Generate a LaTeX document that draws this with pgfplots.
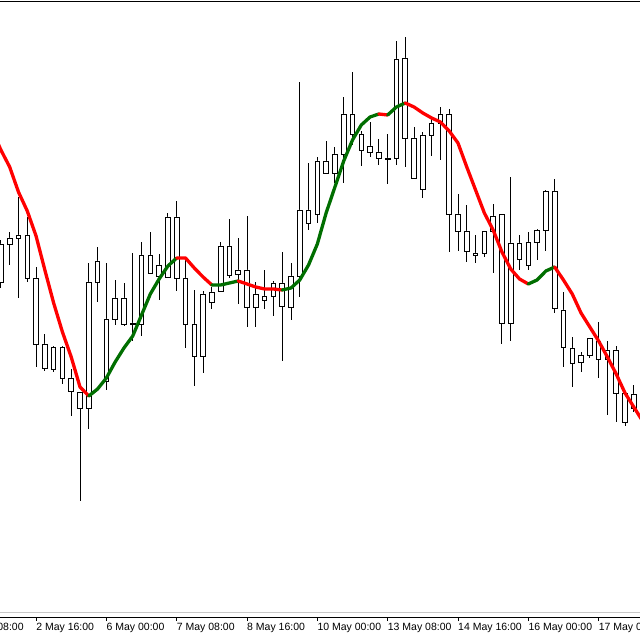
\documentclass[border=0pt]{standalone}
\usepackage{pgfplots}
\usepackage{pgfplotstable}
\pgfplotsset{compat=1.18}
\usepackage{fontspec}
\setmainfont{Liberation Sans}
\definecolor{maRed}{RGB}{255,0,0}
\definecolor{maGreen}{RGB}{0,110,0}
\definecolor{sepGray}{RGB}{200,200,200}

% candles: index, low, body bottom, body top, high
\pgfplotstableread{
i lo lq uq hi
0 352 358 396 400
1 375 396 402 408
2 342 402 405 443
3 358 362 405 423
4 273 296 362 373
5 269 272 296 306
6 268 271 293 294
7 256 262 293 294
8 224 249 262 271
9 139 232 248 248
10 211 232 358 377
11 338 358 379 393
12 250 259 321 377
13 315 321 342 360
14 314 316 342 357
15 299 316 317 387
16 304 316 385 398
17 366 367 385 408
18 340 364 375 386
19 362 363 423 427
20 349 362 423 439
21 292 316 362 383
22 254 284 316 350
23 267 284 346 349
24 331 338 348 353
25 348 349 394 398
26 362 365 394 421
27 336 366 370 402
28 313 333 370 424
29 313 333 346 358
30 331 340 344 370
31 324 344 357 359
32 279 334 357 388
33 320 333 364 377
34 343 364 430 558
35 410 417 430 477
36 417 426 479 483
37 466 467 479 499
38 457 467 486 493
39 457 486 526 543
40 495 506 526 568
41 474 490 506 509
42 483 488 494 518
43 475 482 488 501
44 456 481 482 506
45 475 482 581 599
46 473 502 582 603
47 461 462 502 513
48 442 451 505 508
49 484 505 517 522
50 480 517 526 533
51 388 426 526 531
52 389 409 426 446
53 378 389 409 435
54 377 385 387 405
55 383 387 409 409
56 367 409 424 436
57 296 317 426 426
58 299 317 397 463
59 370 381 397 405
60 370 375 398 408
61 380 398 410 411
62 389 410 449 450
63 327 332 449 461
64 273 293 330 348
65 253 277 292 303
66 268 278 285 288
67 282 285 302 302
68 262 281 299 318
69 225 281 290 299
70 218 247 290 294
71 214 218 247 247
72 228 232 246 255
}\candles

% moving average
\pgfplotstableread{
i ma
-0.6 502
0 490
1 473
2 448
3 429
4 404
5 370
6 337
7 308
8 283
9 253
10 244
11 251
12 262
13 278
14 292
15 304
16 325
17 346
18 361
19 374
20 382
21 382
22 372
23 363
24 355
25 355
26 357
27 359
28 356
29 353
30 351
31 351
32 350
33 352
34 360
35 375
36 396
37 427
38 453
39 479
40 500
41 515
42 523
43 526
44 525
45 533
46 537
47 533
48 527
49 522
50 518
51 509
52 497
53 473
54 450
55 427
56 410
57 388
58 371
59 361
60 356
61 360
62 369
63 373
64 360
65 346
66 327
67 313
68 299
69 283
70 266
71 247
72 233
73 219
}\matable

\pgfplotsset{
  chartgeom/.style={
    at={(0,22.8bp)}, anchor=south west,
    width=640bp, height=616.2bp, scale only axis,
    xmin=-0.1024, xmax=72.708, ymin=22.8, ymax=639,
  },
  maline/.style={line width=3.3bp, line join=round, line cap=round, mark=none},
}

\begin{document}
\begin{tikzpicture}
\path[use as bounding box] (0,0) rectangle (640bp,640bp);
\clip (0,0) rectangle (640bp,640bp);

% axis frame, time scale and candle wicks
\begin{axis}[
  chartgeom,
  separate axis lines,
  y axis line style={draw=none},
  x axis line style={black, line width=0.9bp},
  ytick=\empty,
  xtick={4,12,20,28,36,44,52,60,68},
  xticklabels={2 May 16:00,6 May 00:00,7 May 08:00,8 May 16:00,10 May 00:00,13 May 08:00,14 May 16:00,16 May 00:00,17 May 08:00},
  xtick pos=left, tick align=outside,
  major tick length=4bp,
  xtick style={black, line width=0.9bp},
  xticklabel style={anchor=north west, inner sep=0pt, font=\fontsize{10.5bp}{12bp}\selectfont, yshift=-2bp},
]
\addplot[draw=sepGray, line width=1.7bp, forget plot] coordinates {(-2,27.5) (80,27.5)};
\addplot[draw=none, no markers,
  error bars/.cd, y dir=plus, y explicit, error mark=none,
  error bar style={draw=black, line width=0.9bp, solid}]
  table[x=i, y=lo, y error expr=\thisrow{hi}-\thisrow{lo}] {\candles};
\end{axis}

% candle bodies
\begin{axis}[
  chartgeom, hide axis,
  ybar stacked, bar width=4.6bp,
]
\addplot[draw=none, fill=none] table[x=i, y=lq] {\candles};
\addplot[draw=black, fill=white, line width=0.9bp] table[x=i, y expr=\thisrow{uq}-\thisrow{lq}] {\candles};
\end{axis}

% moving average, red when falling, green when rising
\begin{axis}[chartgeom, hide axis]
\addplot[maline, maRed,   restrict x to domain=-1:10]  table[x=i,y=ma] {\matable};
\addplot[maline, maGreen, restrict x to domain=10:20]  table[x=i,y=ma] {\matable};
\addplot[maline, maRed,   restrict x to domain=20:24]  table[x=i,y=ma] {\matable};
\addplot[maline, maGreen, restrict x to domain=24:27]  table[x=i,y=ma] {\matable};
\addplot[maline, maRed,   restrict x to domain=27:32]  table[x=i,y=ma] {\matable};
\addplot[maline, maGreen, restrict x to domain=32:43]  table[x=i,y=ma] {\matable};
\addplot[maline, maRed,   restrict x to domain=43:44]  table[x=i,y=ma] {\matable};
\addplot[maline, maGreen, restrict x to domain=44:46]  table[x=i,y=ma] {\matable};
\addplot[maline, maRed,   restrict x to domain=46:60]  table[x=i,y=ma] {\matable};
\addplot[maline, maGreen, restrict x to domain=60:63]  table[x=i,y=ma] {\matable};
\addplot[maline, maRed,   restrict x to domain=63:74]  table[x=i,y=ma] {\matable};
\end{axis}

% partly hidden first time label (its tick lies left of the window)
\node[anchor=north west, inner sep=0pt, font=\fontsize{10.5bp}{12bp}\selectfont] at (-34.3bp,16.8bp) {1 May 08:00};
\end{tikzpicture}
\end{document}
